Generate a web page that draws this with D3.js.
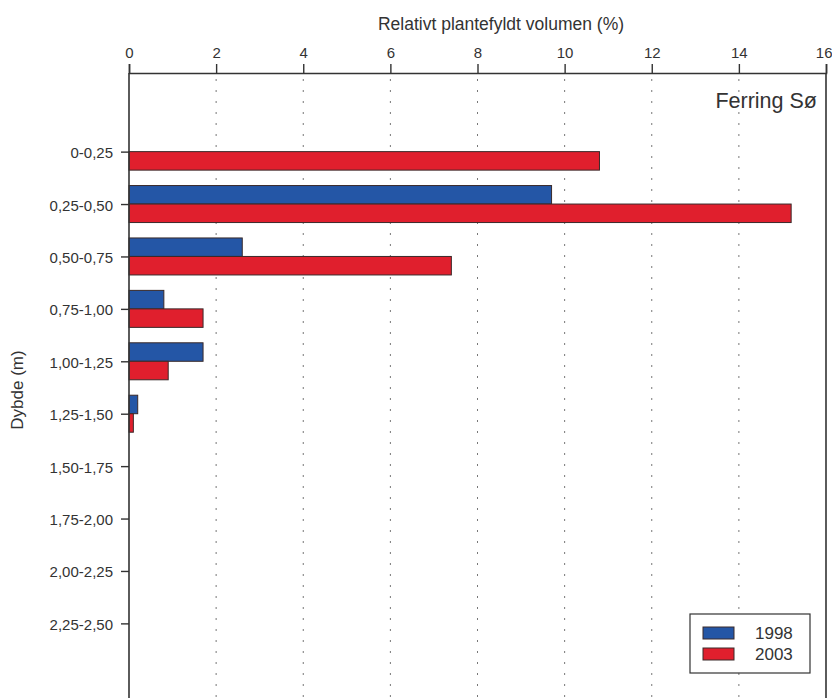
<!DOCTYPE html>
<html>
<head>
<meta charset="utf-8">
<script src="https://cdn.jsdelivr.net/npm/d3@7"></script>
<style>
  html, body { margin: 0; padding: 0; background: #fff; }
  svg { display: block; font-family: "Liberation Sans", Arial, sans-serif; }
</style>
</head>
<body>
<svg id="chart" width="832" height="698"></svg>
<script>
// Depth intervals (m)
const depths = ["0-0,25", "0,25-0,50", "0,50-0,75", "0,75-1,00", "1,00-1,25",
                "1,25-1,50", "1,50-1,75", "1,75-2,00", "2,00-2,25", "2,25-2,50"];
// Relative plant-filled volume (%) per depth interval
const values1998 = [0, 9.7, 2.6, 0.8, 1.7, 0.2, 0, 0, 0, 0];
const values2003 = [10.8, 15.2, 7.4, 1.7, 0.9, 0.1, 0, 0, 0, 0];
const seriesNames = ["1998", "2003"];
const seriesColors = ["#2456a6", "#e01f2d"];
const xTicks = [0, 2, 4, 6, 8, 10, 12, 14, 16];

const svg = d3.select("#chart");
const plotL = 129, plotR = 826, plotT = 73, plotB = 702;
const ink = "#333";

const x = d3.scaleLinear().domain([0, 16]).range([plotL, plotR]);
const y = d3.scalePoint().domain(depths).range([plotT, plotB]).padding(1.5);
const barH = 18.5;

// dotted vertical gridlines
svg.append("g").selectAll("line")
  .data(xTicks.filter(t => t > 0 && t < 16))
  .join("line")
  .attr("x1", d => x(d)).attr("x2", d => x(d))
  .attr("y1", plotT + 6).attr("y2", 698)
  .attr("stroke", "#777").attr("stroke-width", 1)
  .attr("stroke-dasharray", "2,9");

// bars
const series = [values1998, values2003];
series.forEach((vals, si) => {
  svg.append("g").selectAll("rect")
    .data(depths.map((d, i) => ({ d, v: vals[i] })).filter(o => o.v > 0))
    .join("rect")
    .attr("x", x(0))
    .attr("y", o => si === 0 ? y(o.d) - barH : y(o.d))
    .attr("width", o => x(o.v) - x(0))
    .attr("height", barH)
    .attr("fill", seriesColors[si])
    .attr("stroke", "#3a2a2a").attr("stroke-width", 1);
});

// top axis
const xAxis = d3.axisTop(x).tickValues(xTicks).tickSize(9).tickPadding(6)
  .tickFormat(d3.format("d"));
const gx = svg.append("g").attr("transform", `translate(0,${plotT})`).call(xAxis);
gx.select(".domain").attr("stroke", ink).attr("stroke-width", 1.6);
gx.selectAll(".tick line").attr("stroke", ink).attr("stroke-width", 1.4);
gx.selectAll(".tick text").attr("fill", ink).style("font-size", "15px");
// keep the last label inside the page edge
gx.selectAll(".tick text").filter(d => d === 16).attr("text-anchor", "end").attr("x", 6);

// left axis
const yAxis = d3.axisLeft(y).tickSize(8).tickPadding(8);
const gy = svg.append("g").attr("transform", `translate(${plotL},0)`).call(yAxis);
gy.select(".domain").remove();
gy.append("line").attr("x1", 0).attr("x2", 0).attr("y1", plotT).attr("y2", 698)
  .attr("stroke", ink).attr("stroke-width", 1.6);
gy.selectAll(".tick line").attr("stroke", ink).attr("stroke-width", 1.4);
gy.selectAll(".tick text").attr("fill", ink).style("font-size", "15px").attr("dy", "0.4em");

// right frame
svg.append("line").attr("x1", plotR).attr("x2", plotR).attr("y1", plotT).attr("y2", 698)
  .attr("stroke", ink).attr("stroke-width", 1.6);

// titles
svg.append("text").attr("x", 501).attr("y", 30).attr("text-anchor", "middle")
  .attr("fill", ink).style("font-size", "17.5px").text("Relativt plantefyldt volumen (%)");
svg.append("text").attr("transform", "translate(23,390) rotate(-90)")
  .attr("text-anchor", "middle").attr("fill", ink).style("font-size", "17px")
  .text("Dybde (m)");
svg.append("text").attr("x", 817).attr("y", 108).attr("text-anchor", "end")
  .attr("fill", ink).style("font-size", "21.5px").text("Ferring Sø");

// legend
const lg = svg.append("g");
lg.append("rect").attr("x", 690).attr("y", 614).attr("width", 120).attr("height", 59)
  .attr("fill", "#fff").attr("stroke", ink).attr("stroke-width", 1.2);
seriesNames.forEach((name, i) => {
  const yy = 627 + i * 21;
  lg.append("rect").attr("x", 703).attr("y", yy).attr("width", 31).attr("height", 12)
    .attr("fill", seriesColors[i]).attr("stroke", "#3a2a2a").attr("stroke-width", 1);
  lg.append("text").attr("x", 755).attr("y", yy + 12).attr("fill", ink)
    .style("font-size", "17px").text(name);
});
</script>
</body>
</html>
